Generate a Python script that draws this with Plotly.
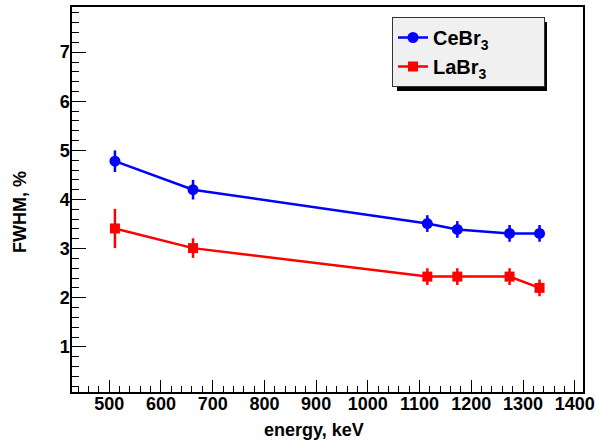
import plotly.graph_objects as go

# Data
energy_cebr3 = [511, 662, 1115, 1173, 1274, 1332]
fwhm_cebr3 = [4.78, 4.20, 3.51, 3.39, 3.31, 3.31]
err_cebr3 = [0.22, 0.20, 0.17, 0.17, 0.17, 0.17]

energy_labr3 = [511, 662, 1115, 1173, 1274, 1332]
fwhm_labr3 = [3.41, 3.01, 2.43, 2.43, 2.43, 2.20]
err_labr3 = [0.40, 0.20, 0.17, 0.17, 0.17, 0.17]

x_range = [428, 1416]
y_range = [0.08, 7.92]

FONT = "Liberation Sans, Arial, Helvetica, sans-serif"
PAD = "&nbsp;" * 9

fig = go.Figure()
fig.add_trace(go.Scatter(
    x=energy_cebr3, y=fwhm_cebr3, mode="lines+markers", name="<b>CeBr<sub>3</sub></b>" + PAD,
    line=dict(color="#0000ff", width=2.5),
    marker=dict(symbol="circle", size=11, color="#0000ff"),
    error_y=dict(type="data", array=err_cebr3, color="#0000ff", thickness=2.5, width=0),
))
fig.add_trace(go.Scatter(
    x=energy_labr3, y=fwhm_labr3, mode="lines+markers", name="<b>LaBr<sub>3</sub></b>" + PAD,
    line=dict(color="#ff0000", width=2.5),
    marker=dict(symbol="square", size=10, color="#ff0000"),
    error_y=dict(type="data", array=err_labr3, color="#ff0000", thickness=2.5, width=0),
))

L, R, T, B = 72, 13, 7, 51
W, H = 596, 443
pw, ph = W - L - R, H - T - B

def px(x):
    return (x - L) / pw

def py(y):
    return 1 - (y - T) / ph

fig.update_layout(
    width=W, height=H,
    margin=dict(l=L, r=R, t=T, b=B, autoexpand=False),
    paper_bgcolor="white", plot_bgcolor="white",
    font=dict(family=FONT, size=18, color="black", weight="bold"),
    showlegend=True,
    legend=dict(
        x=px(392), y=py(17), xanchor="left", yanchor="top",
        bgcolor="#f0f0f0", bordercolor="#333333", borderwidth=1,
        font=dict(size=20, family=FONT, weight="bold"),
        itemwidth=30, tracegroupgap=0,
    ),
    xaxis=dict(
        range=x_range, dtick=100, tick0=0, automargin=False,
        ticks="inside", ticklen=12, tickwidth=1, tickcolor="black",
        minor=dict(ticks="inside", ticklen=6, dtick=20, tickcolor="black", tickwidth=1),
        showgrid=False, zeroline=False,
        showline=True, linecolor="black", linewidth=1.5, mirror=True,
        tickfont=dict(size=18, family=FONT, weight="bold"),
        ticklabelstandoff=-5,
    ),
    yaxis=dict(
        range=y_range, dtick=1, tick0=0, automargin=False,
        ticks="inside", ticklen=14, tickwidth=1, tickcolor="black",
        minor=dict(ticks="inside", ticklen=7, dtick=0.2, tickcolor="black", tickwidth=1),
        showgrid=False, zeroline=False,
        showline=True, linecolor="black", linewidth=1.5, mirror=True,
        tickfont=dict(size=18, family=FONT, weight="bold"),
        ticklabelstandoff=-3,
    ),
    shapes=[
        dict(type="rect", xref="paper", yref="paper",
             x0=px(397), x1=px(547), y0=py(91), y1=py(22),
             fillcolor="black", line=dict(width=0), layer="above"),
    ],
    annotations=[
        dict(text="<b>energy, keV</b>", xref="paper", yref="paper",
             x=px(314), y=py(430), showarrow=False,
             font=dict(size=18, family=FONT), xanchor="center", yanchor="middle"),
        dict(text="<b>FWHM, %</b>", xref="paper", yref="paper",
             x=px(20), y=py(212), showarrow=False, textangle=-90,
             font=dict(size=18, family=FONT), xanchor="center", yanchor="middle"),
    ],
)

fig.write_html("out.html", config={"displayModeBar": False},
               post_script="document.body.style.margin='0';document.body.style.padding='0';")
